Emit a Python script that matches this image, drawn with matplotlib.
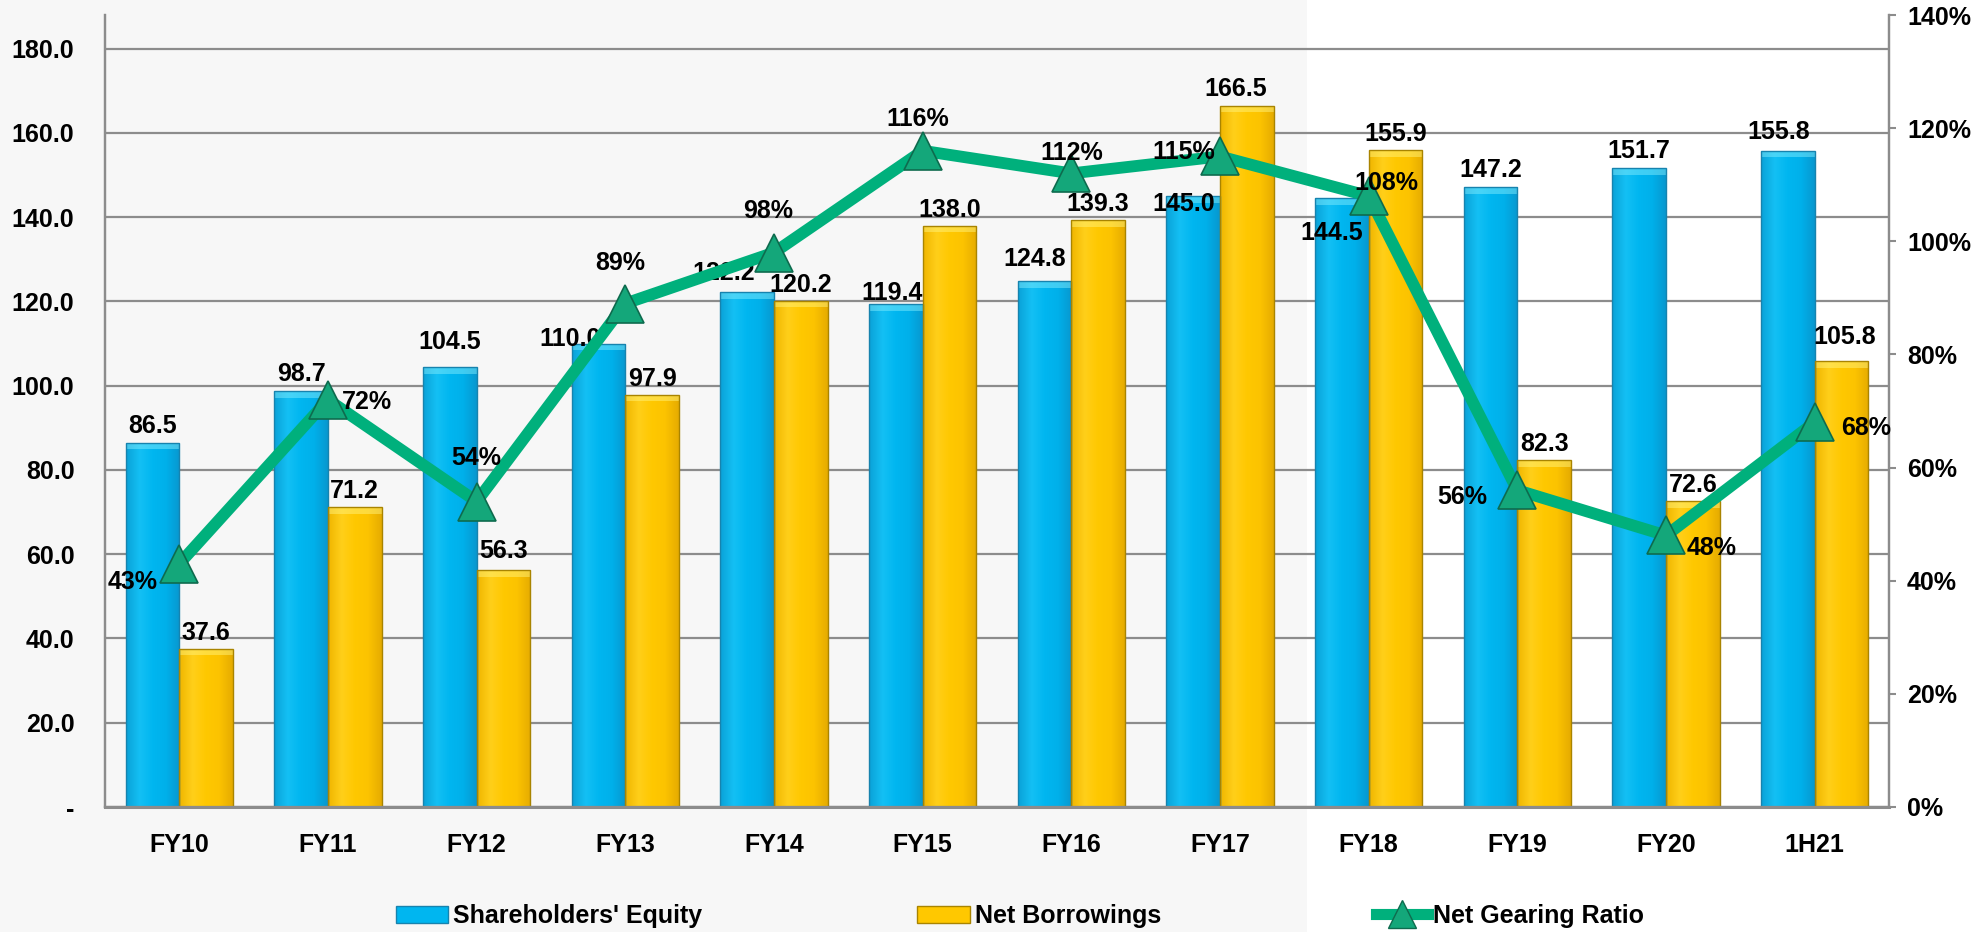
import numpy as np
import matplotlib
matplotlib.use("Agg")
import matplotlib.pyplot as plt
from matplotlib.colors import LinearSegmentedColormap
from matplotlib.patches import Patch, Rectangle
from matplotlib.lines import Line2D

#data
periods = ["FY10", "FY11", "FY12", "FY13", "FY14", "FY15", "FY16", "FY17", "FY18", "FY19", "FY20", "1H21"]
equity = [86.5, 98.7, 104.5, 110.0, 122.2, 119.4, 124.8, 145.0, 144.5, 147.2, 151.7, 155.8]
borrowings = [37.6, 71.2, 56.3, 97.9, 120.2, 138.0, 139.3, 166.5, 155.9, 82.3, 72.6, 105.8]
gearing = [43, 72, 54, 89, 98, 116, 112, 115, 108, 56, 48, 68]
left_ticks = [0, 20, 40, 60, 80, 100, 120, 140, 160, 180]
right_ticks = [0, 20, 40, 60, 80, 100, 120, 140]

BLUE = "#00B6F0"
YELLOW = "#FFC800"
GREEN = "#00B07C"
GRID = "#8C8C8C"

plt.rcParams["font.family"] = ["Liberation Sans", "DejaVu Sans"]
plt.rcParams["font.weight"] = "bold"
FS = 18

W, H = 1975, 932
fig = plt.figure(figsize=(W / 100, H / 100), dpi=100, facecolor="white")
# grey slide background on the left part
fig.add_artist(Rectangle((0, 0), 1307 / W, 1, transform=fig.transFigure,
                         facecolor="#F7F7F7", edgecolor="none", zorder=-10))

ax = fig.add_axes([105 / W, 1 - 807 / H, (1889 - 105) / W, (807 - 15) / H])
ax.patch.set_visible(False)
ax2 = ax.twinx()
ax2.patch.set_visible(False)

x = np.arange(len(periods))
bw = 0.36


def shaded_bars(xs, vals, cmap, edge, bevel):
    bars = ax.bar(xs, vals, bw, facecolor="none", edgecolor=edge, linewidth=1.0, zorder=4)
    grad = np.linspace(0, 1, 64).reshape(1, -1)
    for b in bars:
        x0, h = b.get_x(), b.get_height()
        im = ax.imshow(grad, cmap=cmap, extent=(x0, x0 + bw, 0, h), aspect="auto",
                       interpolation="bicubic", zorder=2)
        im.set_clip_path(b)
    # light strip on the bar tops
    ax.bar(xs, [1.6] * len(vals), bw, bottom=np.array(vals) - 1.6,
           color=bevel, alpha=0.5, linewidth=0, zorder=3)
    return bars


blue_cm = LinearSegmentedColormap.from_list("b", ["#0AA2D8", "#14C0F4", "#00B6F0", "#00B0EA", "#0898CF"])
yel_cm = LinearSegmentedColormap.from_list("y", ["#F0B600", "#FFCF1A", "#FFC800", "#FCC300", "#E6AC00"])
shaded_bars(x - bw / 2, equity, blue_cm, "#1783AE", "#7EEAFC")
shaded_bars(x + bw / 2, borrowings, yel_cm, "#A98400", "#FFF27A")

ax.set_xlim(-0.5, len(periods) - 0.5)
ax.set_ylim(0, 188)
ax2.set_ylim(0, 140)

# bar value labels, offsets in pixels (label centre from bar top)
eq_off = {2: (0, 27), 3: (-29, 7), 4: (-24, 21), 5: (-4, 13), 6: (-10, 24),
          7: (-10, -6), 8: (-10, -33), 11: (-9, 21)}
nb_off = {2: (0, 21), 7: (-11, 19), 11: (3, 26)}
for i in range(len(periods)):
    dx, dy = eq_off.get(i, (0, 19))
    ax.annotate(f"{equity[i]:.1f}", (x[i] - bw / 2, equity[i]), xytext=(dx, dy - 9),
                textcoords="offset pixels", ha="center", va="baseline",
                fontsize=FS, fontweight="bold", zorder=8)
    dx, dy = nb_off.get(i, (0, 18))
    ax.annotate(f"{borrowings[i]:.1f}", (x[i] + bw / 2, borrowings[i]), xytext=(dx, dy - 9),
                textcoords="offset pixels", ha="center", va="baseline",
                fontsize=FS, fontweight="bold", zorder=8)

# gearing line
ax2.plot(x, gearing, color=GREEN, lw=8.5, marker="^", ms=27, mfc="#14A77A",
         mec="#0E6B4E", mew=1.2, zorder=5, solid_joinstyle="miter")
g_off = [(-47, -16), (39, 0), (0, 46), (-5, 43), (-6, 44), (-5, 34),
         (0, 22), (-36, 6), (18, 15), (-55, -5), (46, -11), (51, -4)]
for i, g in enumerate(gearing):
    dx, dy = g_off[i]
    ax2.annotate(f"{g}%", (x[i], g), xytext=(dx, dy - 9), textcoords="offset pixels",
                 ha="center", va="baseline", fontsize=FS, fontweight="bold", zorder=9)

# axes styling
ax.set_yticks(left_ticks)
ax.set_yticklabels(["-"] + [f"{t:.1f}" for t in left_ticks[1:]])
ax.yaxis.grid(True, color=GRID, lw=1.6)
ax.set_axisbelow(True)
ax.tick_params(axis="y", length=0, pad=22, labelsize=FS)
ax.set_xticks(x)
ax.set_xticklabels(periods)
ax.tick_params(axis="x", length=0, pad=19, labelsize=FS)

ax2.set_yticks(right_ticks)
ax2.set_yticklabels([f"{t}%" for t in right_ticks])
ax2.tick_params(axis="y", length=5, width=1.5, color=GRID, pad=8, labelsize=FS)

for a in (ax, ax2):
    a.spines["top"].set_visible(False)
    for s in ("left", "right", "bottom"):
        a.spines[s].set_color(GRID)
        a.spines[s].set_linewidth(1.6)
ax.spines["bottom"].set_linewidth(2.2)

for lab in ax.get_xticklabels() + ax.get_yticklabels() + ax2.get_yticklabels():
    lab.set_fontweight("bold")

# legend
handles = [Patch(facecolor=BLUE, edgecolor="#1783AE"),
           Patch(facecolor=YELLOW, edgecolor="#A98400"),
           Line2D([0], [0], color=GREEN, lw=8, marker="^", ms=20,
                  mfc="#14A77A", mec="#0E6B4E")]
fig.legend(handles, ["Shareholders' Equity", "Net Borrowings", "Net Gearing Ratio"],
           loc="center", bbox_to_anchor=(1020 / W, 1 - 916 / H), ncol=3,
           frameon=False, prop={"size": FS, "weight": "bold"},
           handlelength=2.1, handleheight=0.7, handletextpad=0.2,
           columnspacing=8.6, borderpad=0)

fig.savefig("out.png", dpi=100, facecolor=fig.get_facecolor())
